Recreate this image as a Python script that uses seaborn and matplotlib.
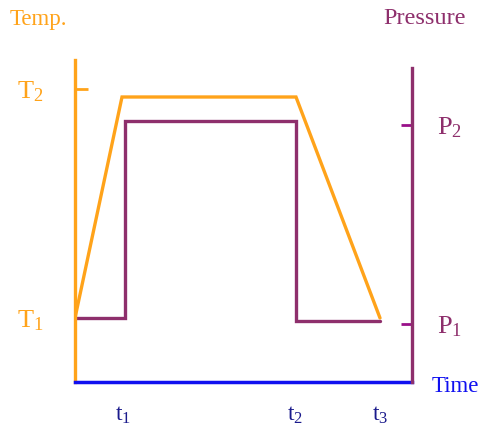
import matplotlib
matplotlib.use("Agg")
import matplotlib.pyplot as plt
import seaborn as sns
import pandas as pd

# data (axis units: time 0..337, level 0..322)
time_ticks = [48, 220, 305]
time_labels = [r"$\mathrm{t}_1$", r"$\mathrm{t}_2$", r"$\mathrm{t}_3$"]
temp_time = [0, 47, 221, 305]
temp_vals = [64, 285, 285, 64]
pres_time = [0, 50, 50, 221, 221, 305]
pres_vals = [64, 64, 261, 261, 61, 61]
temp_ticks = [64, 293]
temp_labels = [r"$\mathrm{T}_1$", r"$\mathrm{T}_2$"]
pres_ticks = [58, 257]
pres_labels = [r"$\mathrm{P}_1$", r"$\mathrm{P}_2$"]

ORANGE = "#FFA31A"
PURPLE = "#8E2F6C"
BLUE = "#1010F0"

sns.set_style("white")
plt.rcParams["font.family"] = ["Liberation Serif", "DejaVu Serif"]
plt.rcParams["mathtext.fontset"] = "custom"
plt.rcParams["mathtext.rm"] = "Liberation Serif"
plt.rcParams["mathtext.it"] = "Liberation Serif"

fig = plt.figure(figsize=(4.83, 4.28), dpi=100)
ax = fig.add_axes([75/483, (428-382)/428, (412-75)/483, (382-60)/428])
ax.set_xlim(0, 337)
ax.set_ylim(0, 322)
ax.patch.set_alpha(0)

df_t = pd.DataFrame({"t": temp_time, "v": temp_vals})
df_p = pd.DataFrame({"t": pres_time, "v": pres_vals})
sns.lineplot(data=df_p, x="t", y="v", ax=ax, color=PURPLE, lw=2.4, sort=False,
             estimator=None, solid_joinstyle="miter")
sns.lineplot(data=df_t, x="t", y="v", ax=ax, color=ORANGE, lw=2.4, sort=False,
             estimator=None, solid_joinstyle="miter")

for s in ["top", "right"]:
    ax.spines[s].set_visible(False)
ax.spines["left"].set_color(ORANGE)
ax.spines["left"].set_linewidth(2.4)
ax.spines["bottom"].set_color(BLUE)
ax.spines["bottom"].set_linewidth(2.5)
ax.set_xlabel("")
ax.set_ylabel("")

ax.set_xticks(time_ticks)
ax.set_xticklabels(time_labels)
ax.tick_params(axis="x", direction="in", length=8, width=2.0, color="#1a1a8c",
               labelcolor="#1a1a8c", labelsize=17, pad=16)
ax.set_yticks(temp_ticks)
ax.set_yticklabels(temp_labels)
ax.tick_params(axis="y", direction="in", length=9, width=2.0, color=ORANGE,
               labelcolor=ORANGE, labelsize=19, pad=23)

ax2 = ax.twinx()
ax2.set_ylim(0, 322)
for s in ["top", "left", "bottom"]:
    ax2.spines[s].set_visible(False)
ax2.spines["right"].set_color(PURPLE)
ax2.spines["right"].set_linewidth(2.4)
ax2.spines["right"].set_bounds(0, 314)
ax2.set_yticks(pres_ticks)
ax2.set_yticklabels(pres_labels)
ax2.tick_params(axis="y", direction="in", length=8, width=2.0, color="#99108a",
                labelcolor=PURPLE, labelsize=19, pad=18)

fig.text(10/483, 1-19/428, "Temp.", color=ORANGE, fontsize=16.5, ha="left", va="center")
fig.text(383/483, 1-19/428, "Pressure", color=PURPLE, fontsize=17.5, ha="left", va="center")
fig.text(432/483, 1-386/428, "Time", color=BLUE, fontsize=16.5, ha="left", va="center")

fig.savefig("out.png", dpi=100)
